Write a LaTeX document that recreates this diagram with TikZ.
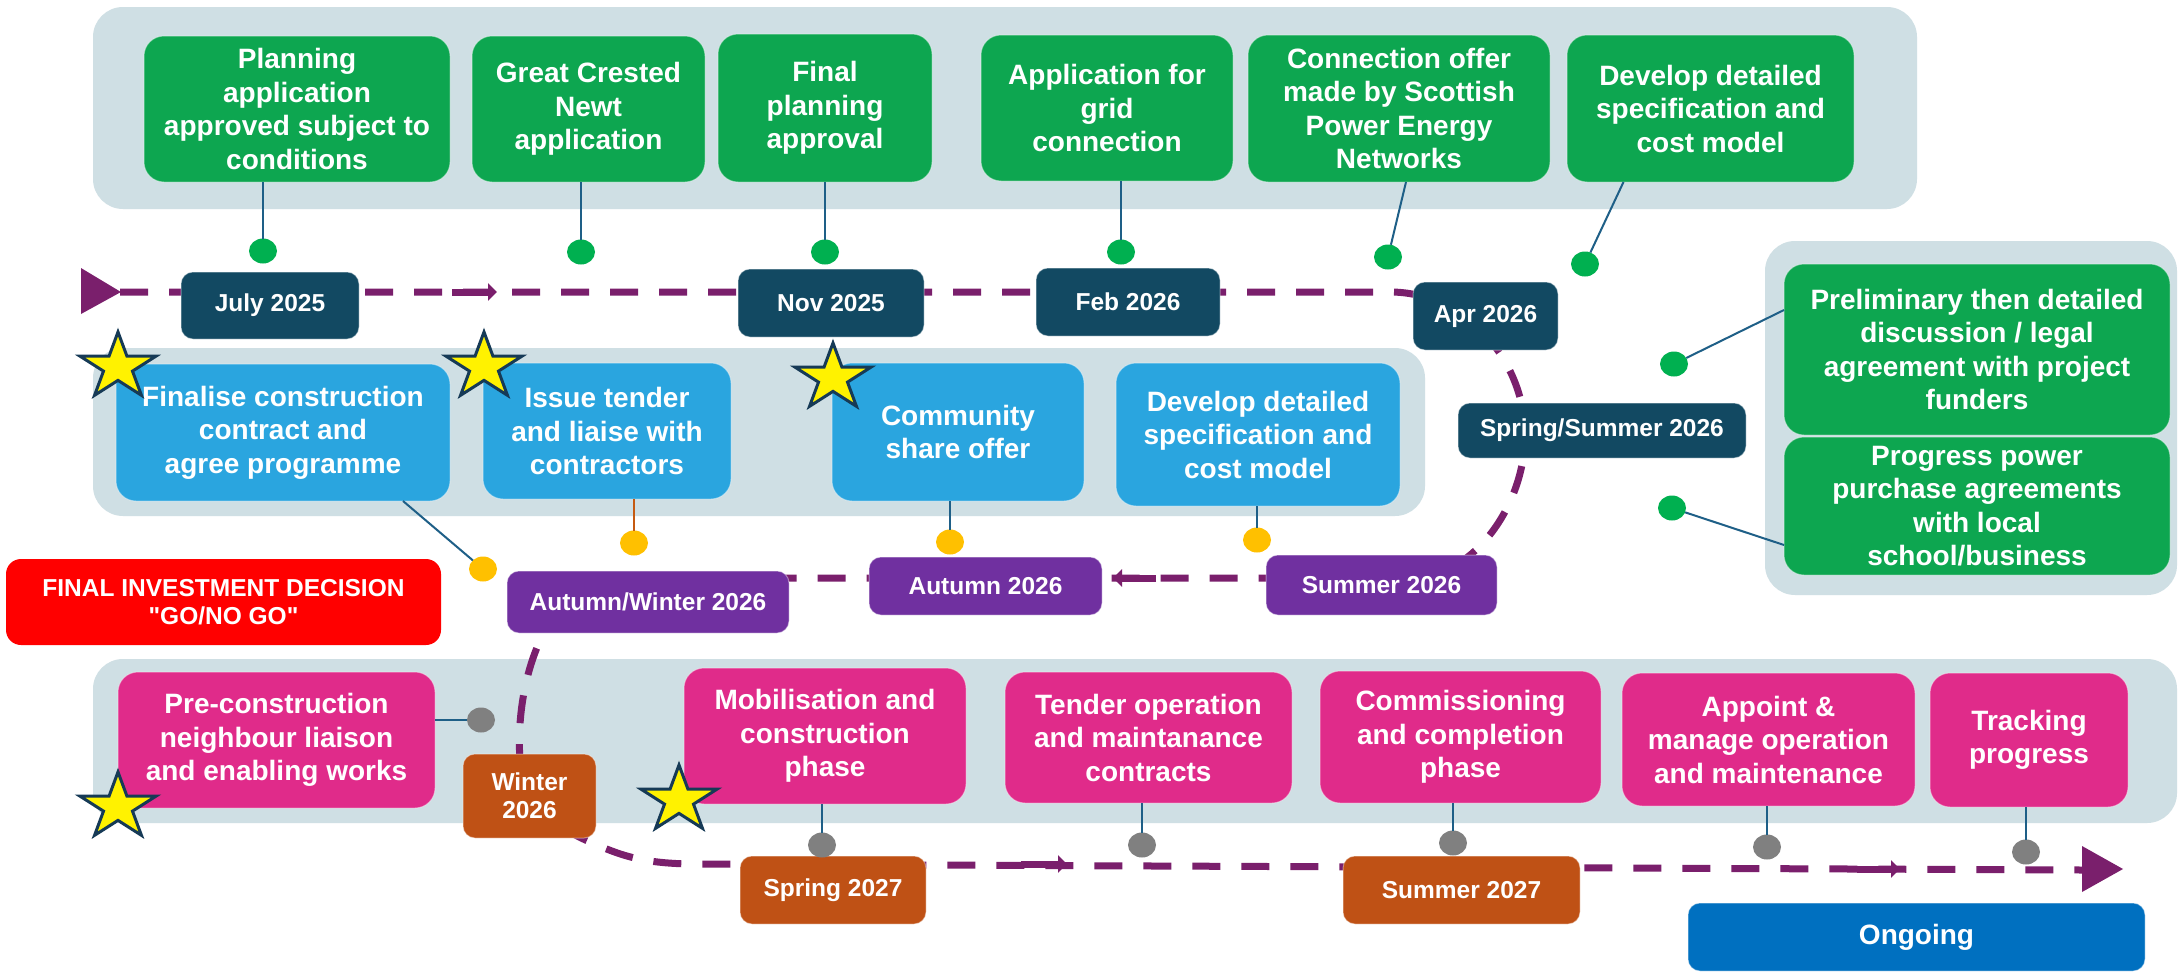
\documentclass[tikz,border=0pt]{standalone}
\usepackage{fontspec}
\setmainfont{Liberation Sans}
\usetikzlibrary{positioning,shapes.geometric,arrows.meta}

\definecolor{panelgray}{RGB}{207,223,228}
\definecolor{stepgreen}{RGB}{13,166,80}
\definecolor{dotgreen}{RGB}{0,176,80}
\definecolor{datenavy}{RGB}{18,73,98}
\definecolor{taskblue}{RGB}{42,165,223}
\definecolor{dotyellow}{RGB}{255,192,0}
\definecolor{datepurple}{RGB}{112,48,160}
\definecolor{linepurple}{RGB}{122,31,108}
\definecolor{taskpink}{RGB}{224,43,138}
\definecolor{dateorange}{RGB}{191,81,21}
\definecolor{ongoingblue}{RGB}{0,112,192}
\definecolor{linkteal}{RGB}{30,95,135}
\definecolor{linkorange}{RGB}{197,90,17}
\definecolor{starnavy}{RGB}{22,58,86}

\newcommand{\taskfont}{\fontsize{28}{33.5}\selectfont\bfseries}
\newcommand{\datefont}{\fontsize{24.5}{28}\selectfont\bfseries}
\newcommand{\straightquote}{\XeTeXglyph\XeTeXcharglyph"22\relax}

\begin{document}
\begin{tikzpicture}[x=1pt,y=-1pt,
  every node/.style={inner sep=0pt,outer sep=0pt},
  task/.style={rounded corners=20pt,text=white,font=\taskfont,align=center,draw=white,draw opacity=0.4,line width=1pt},
  greentask/.style={task,fill=stepgreen},
  bluetask/.style={task,fill=taskblue},
  pinktask/.style={task,fill=taskpink},
  datebox/.style={rounded corners=12pt,text=white,font=\datefont,align=center,draw=white,draw opacity=0.4,line width=1pt},
  navydate/.style={datebox,fill=datenavy},
  purpledate/.style={datebox,fill=datepurple},
  orangedate/.style={datebox,fill=dateorange},
  panel/.style={fill=panelgray,rounded corners=30pt},
  milestone/.style={ellipse,minimum width=28pt,minimum height=25pt},
  link/.style={draw=linkteal,line width=2pt},
  timeline/.style={draw=linepurple,line width=7pt,dash pattern=on 28pt off 21pt},
  timearrow/.style={draw=linepurple,line width=7pt,-{Triangle[length=9pt,width=17pt]}},
  keystar/.style={star,star points=5,star point ratio=2.618,minimum size=70pt,fill=yellow,draw=starnavy,line width=3pt,transform shape}
]
\fill[white] (0,0) rectangle (2179,972);
\useasboundingbox (0,0) rectangle (2179,972);

\fill[panel] (93,7) rectangle (1917,209);
\fill[panel] (93,348) rectangle (1425,516);
\fill[panel] (1765,241) rectangle (2177,595);
\fill[panel] (93,659) rectangle (2177,823);

\coordinate (tlstart) at (120,292);
\coordinate (tlbend) at (1390,292);
\coordinate (tlend) at (2082,870);
\draw[timeline] (tlstart) -- (tlbend) .. controls (1465,292) and (1525,360) .. (1525,435)
  .. controls (1525,500) and (1480,570) .. (1420,578) -- (600,578)
  .. controls (540,600) and (515,690) .. (520,760)
  .. controls (525,800) and (550,825) .. (590,842)
  .. controls (620,855) and (640,863) .. (690,864) -- (tlend);
\fill[linepurple] (81,268) -- (121,292) -- (81,314) -- cycle;
\fill[linepurple] (2082,846) -- (2123,869) -- (2082,892) -- cycle;
\draw[timearrow] (452,292) -- (497,292);
\draw[timearrow] (1156,578) -- (1113,578);
\draw[timearrow] (1021,864) -- (1067,864);
\draw[timearrow] (1857,869) -- (1900,869);

\node[greentask,minimum width=306pt,minimum height=146pt] (planapp) at (297,109) {Planning\\application\\approved subject to\\conditions};
\node[greentask,minimum width=233pt,minimum height=146pt] (newt) at (588.5,109) {Great Crested\\Newt\\application};
\node[greentask,minimum width=214pt,minimum height=148pt] (finalplan) at (825,108) {Final\\planning\\approval};
\node[greentask,minimum width=252pt,minimum height=146pt] (gridapp) at (1107,108) {Application for\\grid\\connection};
\node[greentask,minimum width=302pt,minimum height=147pt] (connoffer) at (1399,108.5) {Connection offer\\made by Scottish\\Power Energy\\Networks};
\node[greentask,minimum width=287pt,minimum height=147pt] (specgreen) at (1710.5,108.5) {Develop detailed\\specification and\\cost model};

\node[navydate,minimum width=178pt,minimum height=67pt] (jul25) at (270,305.5) {July 2025};
\node[navydate,minimum width=186pt,minimum height=68pt] (nov25) at (831,303) {Nov 2025};
\node[navydate,minimum width=184pt,minimum height=68pt] (feb26) at (1128,302) {Feb 2026};
\node[navydate,minimum width=145pt,minimum height=68pt] (apr26) at (1485.5,316) {Apr 2026};
\node[navydate,minimum width=288pt,minimum height=55pt] (spsum26) at (1602,430.5) {Spring/Summer 2026};

\node[bluetask,minimum width=334pt,minimum height=137pt] (contract) at (283,432.5) {Finalise construction\\contract and\\agree programme};
\node[bluetask,minimum width=248pt,minimum height=136pt] (tender) at (607,431) {Issue tender\\and liaise with\\contractors};
\node[bluetask,minimum width=252pt,minimum height=138pt] (shares) at (958,432) {Community\\share offer};
\node[bluetask,minimum width=284pt,minimum height=143pt] (specblue) at (1258,434.5) {Develop detailed\\specification and\\cost model};

\node[rounded corners=15pt,fill=red,text=white,font=\datefont,align=center,minimum width=435pt,minimum height=86pt] (fid) at (223.5,602) {FINAL INVESTMENT DECISION\\\straightquote GO/NO GO\straightquote};
\node[purpledate,minimum width=282pt,minimum height=62pt] (autwin26) at (648,602) {Autumn/Winter 2026};
\node[purpledate,minimum width=233pt,minimum height=58pt] (aut26) at (985.5,586) {Autumn 2026};
\node[purpledate,minimum width=231pt,minimum height=60pt] (sum26) at (1381.5,585) {Summer 2026};

\node[greentask,minimum width=386pt,minimum height=171pt] (funders) at (1977,349.5) {Preliminary then detailed\\discussion / legal\\agreement with project\\funders};
\node[greentask,minimum width=386pt,minimum height=138pt] (ppa) at (1977,506) {Progress power\\purchase agreements\\with local\\school/business};

\node[pinktask,minimum width=317pt,minimum height=136pt] (preworks) at (276.5,740) {Pre-construction\\neighbour liaison\\and enabling works};
\node[pinktask,minimum width=282pt,minimum height=136pt] (mobilise) at (825,736) {Mobilisation and\\construction\\phase};
\node[pinktask,minimum width=287pt,minimum height=131pt] (omtender) at (1148.5,737.5) {Tender operation\\and maintanance\\contracts};
\node[pinktask,minimum width=281pt,minimum height=132pt] (commission) at (1460.5,737) {Commissioning\\and completion\\phase};
\node[pinktask,minimum width=293pt,minimum height=133pt] (appoint) at (1768.5,739.5) {Appoint \&\\manage operation\\and maintenance};
\node[pinktask,minimum width=198pt,minimum height=134pt] (tracking) at (2029,740) {Tracking\\progress};

\node[orangedate,minimum width=133pt,minimum height=84pt] (win26) at (529.5,796) {Winter\\2026};
\node[orangedate,minimum width=186pt,minimum height=68pt] (spr27) at (833,890) {Spring 2027};
\node[orangedate,minimum width=237pt,minimum height=68pt] (sum27) at (1461.5,890) {Summer 2027};
\node[datebox,fill=ongoingblue,font=\taskfont,minimum width=457pt,minimum height=68pt] (ongoing) at (1916.5,937) {Ongoing};

\node[milestone,fill=dotgreen] (planappdot) at (263,251) {};
\node[milestone,fill=dotgreen] (newtdot) at (581,252) {};
\node[milestone,fill=dotgreen] (finalplandot) at (825,252) {};
\node[milestone,fill=dotgreen] (gridappdot) at (1121,252) {};
\node[milestone,fill=dotgreen] (connofferdot) at (1388,257) {};
\node[milestone,fill=dotgreen] (specgreendot) at (1585,264) {};
\node[milestone,fill=dotgreen] (fundersdot) at (1674,364) {};
\node[milestone,fill=dotgreen] (ppadot) at (1672,508) {};
\node[milestone,fill=dotyellow] (contractdot) at (483,569) {};
\node[milestone,fill=dotyellow] (tenderdot) at (634,543) {};
\node[milestone,fill=dotyellow] (sharesdot) at (950,542) {};
\node[milestone,fill=dotyellow] (specbluedot) at (1257,540) {};
\node[milestone,fill=gray] (preworksdot) at (481,720) {};
\node[milestone,fill=gray] (mobilisedot) at (822,845) {};
\node[milestone,fill=gray] (omtenderdot) at (1142,845) {};
\node[milestone,fill=gray] (commissiondot) at (1453,843) {};
\node[milestone,fill=gray] (appointdot) at (1767,847) {};
\node[milestone,fill=gray] (trackingdot) at (2026,852) {};

\draw[link] (planappdot |- planapp.south) -- (planappdot);
\draw[link] (newtdot |- newt.south) -- (newtdot);
\draw[link] (finalplandot |- finalplan.south) -- (finalplandot);
\draw[link] (gridappdot |- gridapp.south) -- (gridappdot);
\draw[link] ([xshift=7pt]connoffer.south) -- (connofferdot);
\draw[link] ([xshift=-87pt]specgreen.south) -- (specgreendot);
\draw[link] ([yshift=39.5pt]funders.west) -- (fundersdot);
\draw[link] ([yshift=-39pt]ppa.west) -- (ppadot);
\draw[link] ([xshift=120pt]contract.south) -- (contractdot);
\draw[link,draw=linkorange] (tenderdot |- tender.south) -- (tenderdot);
\draw[link] (sharesdot |- shares.south) -- (sharesdot);
\draw[link] (specbluedot |- specblue.south) -- (specbluedot);
\draw[link] (preworksdot -| preworks.east) -- (preworksdot);
\draw[link] (mobilisedot |- mobilise.south) -- (mobilisedot);
\draw[link] (omtenderdot |- omtender.south) -- (omtenderdot);
\draw[link] (commissiondot |- commission.south) -- (commissiondot);
\draw[link] (appointdot |- appoint.south) -- (appointdot);
\draw[link] (trackingdot |- tracking.south) -- (trackingdot);

\begin{scope}[xscale=1.14]
\node[keystar] (contractstar) at (118/1.14,367) {};
\node[keystar] (tenderstar) at (484/1.14,367) {};
\node[keystar] (sharestar) at (833/1.14,378) {};
\node[keystar] (preworkstar) at (118/1.14,807) {};
\node[keystar] (mobilisestar) at (679/1.14,800) {};
\end{scope}
\end{tikzpicture}
\end{document}
